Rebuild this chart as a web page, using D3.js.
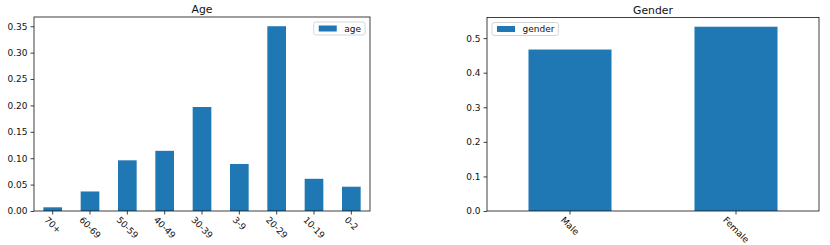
<!DOCTYPE html>
<html>
<head>
<meta charset="utf-8">
<script src="https://cdn.jsdelivr.net/npm/d3@7"></script>
<style>
  body { margin: 0; background: #fff; }
  text { font-family: "DejaVu Sans", sans-serif; fill: #111; }
</style>
</head>
<body>
<script>
var width = 830,
    height = 245;

var ageCategories = ["70+", "60-69", "50-59", "40-49", "30-39", "3-9", "20-29", "10-19", "0-2"],
    ageValues = [0.007, 0.037, 0.096, 0.114, 0.197, 0.089, 0.350, 0.061, 0.046],
    ageTicks = [0, 0.05, 0.10, 0.15, 0.20, 0.25, 0.30, 0.35];

var genderCategories = ["Male", "Female"],
    genderValues = [0.467, 0.533],
    genderTicks = [0, 0.1, 0.2, 0.3, 0.4, 0.5];

var svg = d3.select("body").append("svg")
    .attr("width", width)
    .attr("height", height);

function barChart(o) {
    var g = svg.append("g").attr("transform", "translate(" + [o.x0, o.y0] + ")"),
        w = o.x1 - o.x0,
        h = o.y1 - o.y0;

    var x = d3.scaleBand()
        .domain(o.cats)
        .range([0, w])
        .paddingInner(0.5)
        .paddingOuter(0.25);

    var y = d3.scaleLinear()
        .domain([0, d3.max(o.vals) * 1.05])
        .range([h, 0]);

    g.selectAll("rect.bar")
        .data(o.vals)
        .enter().append("rect")
        .attr("class", "bar")
        .attr("x", function(d, i) { return x(o.cats[i]); })
        .attr("y", function(d) { return y(d); })
        .attr("width", x.bandwidth())
        .attr("height", function(d) { return h - y(d); })
        .attr("fill", "#1f77b4");

    // y axis
    var ya = g.append("g")
        .call(d3.axisLeft(y).tickValues(o.ticks).tickFormat(d3.format(o.fmt)).tickSize(3.5).tickPadding(3));
    ya.select(".domain").remove();
    ya.selectAll("text").style("font-size", "9px").attr("fill", "#111");
    ya.selectAll("line").attr("stroke", "#111").attr("stroke-width", 0.8);

    // x axis
    var xa = g.append("g")
        .attr("transform", "translate(0," + h + ")")
        .call(d3.axisBottom(x).tickSize(3.5).tickFormat(""));
    xa.select(".domain").remove();
    xa.selectAll("line").attr("stroke", "#111").attr("stroke-width", 0.8);

    var fs = 9;
    g.selectAll("text.xl")
        .data(o.cats)
        .enter().append("text")
        .attr("class", "xl")
        .style("font-size", fs + "px")
        .attr("text-anchor", "middle")
        .attr("dominant-baseline", "central")
        .text(function(d) { return d; })
        .attr("transform", function(d) {
            var tw = this.getComputedTextLength(),
                half = (tw + fs * 0.75) * Math.SQRT1_2 / 2;
            return "translate(" + [x(d) + x.bandwidth() / 2, h + 5 + half] + ") rotate(45)";
        });

    // frame
    g.append("rect")
        .attr("width", w)
        .attr("height", h)
        .attr("fill", "none")
        .attr("stroke", "#111")
        .attr("stroke-width", 0.8);

    // title
    g.append("text")
        .attr("x", w / 2)
        .attr("y", -4)
        .attr("text-anchor", "middle")
        .style("font-size", "10.8px")
        .text(o.title);

    // legend
    var lg = g.append("g").attr("transform", "translate(" + [o.legX, 5] + ")");
    var lbox = lg.append("rect")
        .attr("rx", 2)
        .attr("fill", "#fff")
        .attr("fill-opacity", 0.8)
        .attr("stroke", "#ccc")
        .attr("stroke-width", 0.8);
    lg.append("rect")
        .attr("x", 5)
        .attr("y", 3.5)
        .attr("width", 18)
        .attr("height", 6)
        .attr("fill", "#1f77b4");
    var lt = lg.append("text")
        .attr("x", 30.5)
        .attr("y", 9.8)
        .style("font-size", "9px")
        .text(o.legend);
    var lw = 30.5 + lt.node().getComputedTextLength() + 4;
    lbox.attr("width", lw).attr("height", 13);
    if (o.legRight) lg.attr("transform", "translate(" + [w - 5 - lw, 5] + ")");
}

barChart({
    x0: 34, x1: 370, y0: 17, y1: 211,
    cats: ageCategories, vals: ageValues, ticks: ageTicks, fmt: ".2f",
    title: "Age", legend: "age", legRight: true
});

barChart({
    x0: 487, x1: 819, y0: 17.5, y1: 211,
    cats: genderCategories, vals: genderValues, ticks: genderTicks, fmt: ".1f",
    title: "Gender", legend: "gender", legX: 5
});
</script>
</body>
</html>
